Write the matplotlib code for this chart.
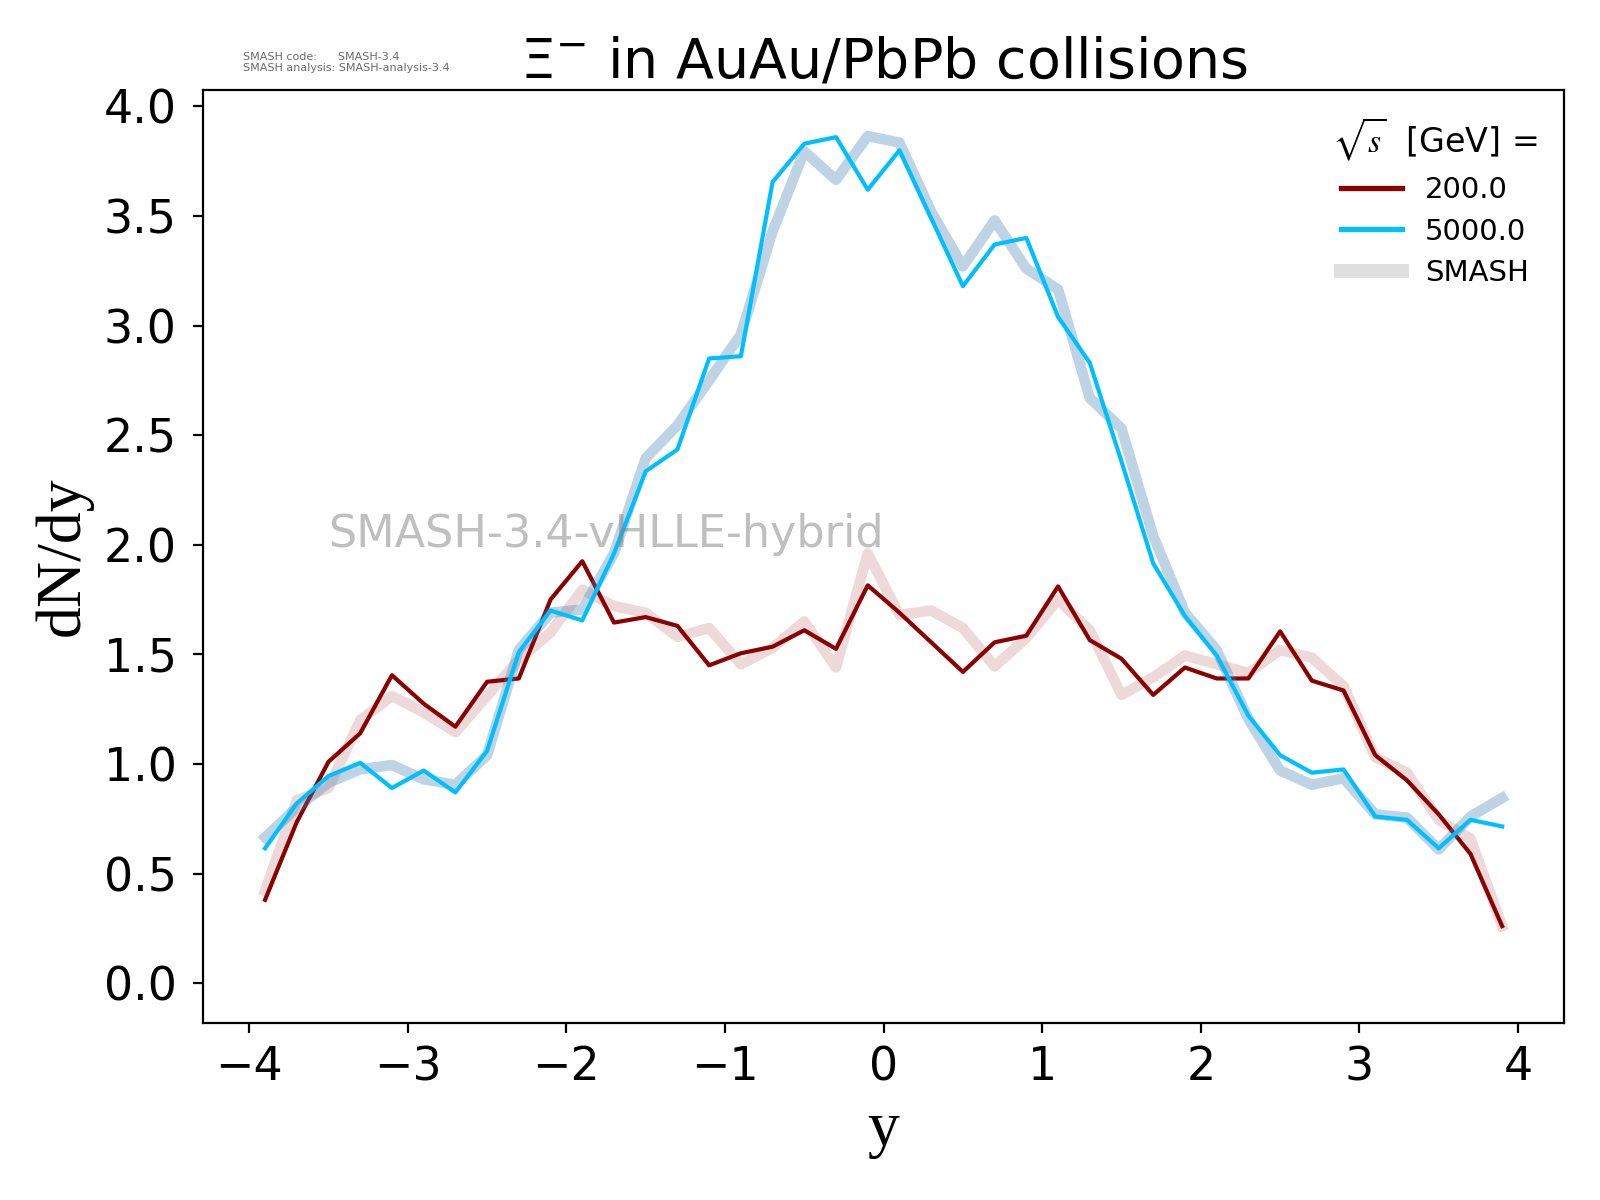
import numpy as np
import matplotlib
matplotlib.use("Agg")
import matplotlib.pyplot as plt
from matplotlib.lines import Line2D

# rapidity bins
y_bins = [-3.9, -3.7, -3.5, -3.3, -3.1, -2.9, -2.7, -2.5, -2.3, -2.1,
          -1.9, -1.7, -1.5, -1.3, -1.1, -0.9, -0.7, -0.5, -0.3, -0.1,
          0.1, 0.3, 0.5, 0.7, 0.9, 1.1, 1.3, 1.5, 1.7, 1.9,
          2.1, 2.3, 2.5, 2.7, 2.9, 3.1, 3.3, 3.5, 3.7, 3.9]

# hybrid results
hybrid_200 = [0.38, 0.735, 1.01, 1.14, 1.405, 1.275, 1.17, 1.375, 1.39, 1.75,
              1.925, 1.645, 1.67, 1.63, 1.45, 1.505, 1.535, 1.61, 1.525, 1.815,
              1.69, 1.555, 1.42, 1.555, 1.585, 1.81, 1.565, 1.48, 1.315, 1.44,
              1.39, 1.39, 1.605, 1.38, 1.335, 1.04, 0.925, 0.77, 0.59, 0.26]
hybrid_5000 = [0.615, 0.82, 0.945, 1.005, 0.89, 0.97, 0.87, 1.06, 1.51, 1.70,
               1.655, 1.96, 2.335, 2.435, 2.85, 2.86, 3.655, 3.83, 3.86, 3.62,
               3.80, 3.49, 3.18, 3.37, 3.40, 3.04, 2.83, 2.38, 1.915, 1.675,
               1.495, 1.22, 1.04, 0.96, 0.975, 0.76, 0.745, 0.615, 0.745, 0.715]

# SMASH reference results
smash_200 = [0.42, 0.835, 0.89, 1.2, 1.31, 1.235, 1.145, 1.31, 1.475, 1.6,
             1.795, 1.72, 1.69, 1.58, 1.62, 1.455, 1.53, 1.65, 1.44, 1.96,
             1.68, 1.70, 1.62, 1.445, 1.575, 1.75, 1.61, 1.315, 1.395, 1.495,
             1.455, 1.415, 1.52, 1.485, 1.355, 1.03, 0.96, 0.745, 0.66, 0.26]
smash_5000 = [0.665, 0.80, 0.915, 0.975, 0.995, 0.93, 0.905, 1.04, 1.52, 1.69,
              1.705, 1.96, 2.395, 2.545, 2.75, 2.96, 3.43, 3.795, 3.665, 3.865,
              3.835, 3.52, 3.27, 3.48, 3.26, 3.165, 2.67, 2.53, 2.04, 1.69,
              1.52, 1.205, 0.97, 0.905, 0.935, 0.77, 0.755, 0.61, 0.76, 0.845]

energies = ["200.0", "5000.0"]
hybrid_series = [hybrid_200, hybrid_5000]
smash_series = [smash_200, smash_5000]
colors = ["darkred", "deepskyblue"]
smash_colors = [("darkred", 0.15), ("steelblue", 0.35)]

fig = plt.figure(figsize=(8, 6), dpi=200)
ax = fig.add_axes([0.127, 0.1475, 0.8505, 0.7775])

for hyb, smh, col, (scol, salpha), lab in zip(hybrid_series, smash_series,
                                               colors, smash_colors, energies):
    ax.plot(y_bins, smh, color=scol, alpha=salpha, lw=3.8)
    ax.plot(y_bins, hyb, color=col, lw=1.5, label=lab)

handles = [Line2D([], [], color=c, lw=1.9, label=lab)
           for c, lab in zip(colors, energies)]
handles.append(Line2D([], [], color="gray", alpha=0.25, lw=5, label="SMASH"))

ax.set_xlim(-4.29, 4.29)
ax.set_ylim(-0.182, 4.075)
ax.set_xticks([-4, -3, -2, -1, 0, 1, 2, 3, 4])
ax.set_yticks([0.0, 0.5, 1.0, 1.5, 2.0, 2.5, 3.0, 3.5, 4.0])
ax.tick_params(labelsize=16.5)
ax.tick_params(axis="y", pad=6)
ax.tick_params(axis="x", pad=4.5)

ax.set_xlabel("y", fontsize=23, family="Liberation Serif")
ax.set_ylabel("dN/dy", fontsize=23, family="Liberation Serif")
ax.set_title(r"$\Xi^{-}$ in AuAu/PbPb collisions", fontsize=20, pad=4.5)

leg = ax.legend(handles=handles, title=r"$\sqrt{s}$  [GeV] =", frameon=False,
                loc="upper right", fontsize=10.5, title_fontsize=12,
                handlelength=2.1, labelspacing=0.45)
leg.get_title().set_math_fontfamily("stix")

ax.text(0.092, 0.5, "SMASH-3.4-vHLLE-hybrid", transform=ax.transAxes,
        fontsize=16, color="gray", alpha=0.5, va="bottom", ha="left")

fig.text(0.152, 0.957, "SMASH code:      SMASH-3.4\nSMASH analysis: SMASH-analysis-3.4",
         fontsize=4, color="dimgray", va="top", ha="left")

fig.savefig("out.png", dpi=200)
